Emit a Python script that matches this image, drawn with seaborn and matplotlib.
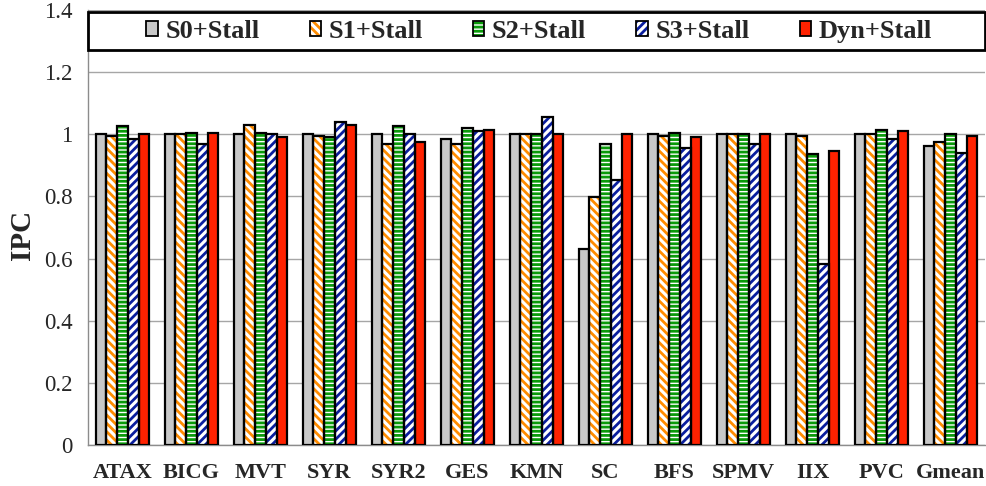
import numpy as np
import pandas as pd
import matplotlib
matplotlib.use("Agg")
import matplotlib.pyplot as plt
from matplotlib.patches import Patch, Rectangle
from matplotlib.font_manager import FontProperties
import seaborn as sns

# ---- data -------------------------------------------------------------
benchmarks = ["ATAX", "BICG", "MVT", "SYR", "SYR2", "GES", "KMN",
              "SC", "BFS", "SPMV", "IIX", "PVC", "Gmean"]
configs = ["S0+Stall", "S1+Stall", "S2+Stall", "S3+Stall", "Dyn+Stall"]

s0_stall = [1.000, 1.000, 1.000, 1.000, 1.000, 0.985, 1.000, 0.632, 1.000, 1.000, 1.000, 1.000, 0.961]
s1_stall = [0.996, 1.000, 1.030, 0.995, 0.970, 0.970, 1.000, 0.797, 0.994, 1.000, 0.996, 1.000, 0.975]
s2_stall = [1.026, 1.004, 1.004, 0.990, 1.026, 1.020, 1.000, 0.970, 1.004, 1.000, 0.936, 1.015, 1.000]
s3_stall = [0.985, 0.970, 1.000, 1.040, 1.000, 1.010, 1.056, 0.853, 0.956, 0.970, 0.582, 0.985, 0.940]
dyn_stall = [1.000, 1.004, 0.990, 1.030, 0.975, 1.015, 1.000, 1.000, 0.990, 1.000, 0.946, 1.010, 0.996]

ytick_values = [0.0, 0.2, 0.4, 0.6, 0.8, 1.0, 1.2, 1.4]
ytick_labels = ["0", "0.2", "0.4", "0.6", "0.8", "1", "1.2", "1.4"]

# ---- styling ----------------------------------------------------------
fills = ["#C8C8C8", "white", "white", "white", "#FF2200"]
hatch_colors = ["#C8C8C8", "#FF8C00", "#0A9A0A", "#0A1E9E", "#FF2200"]
hatches = ["", "\\\\\\\\", "----", "////", ""]

sns.set_style("white")
plt.rcParams["font.family"] = ["Liberation Serif", "DejaVu Serif"]
plt.rcParams["hatch.linewidth"] = 2.0

series = dict(zip(configs, [s0_stall, s1_stall, s2_stall, s3_stall, dyn_stall]))
df = (pd.DataFrame(series, index=benchmarks)
        .rename_axis("benchmark").reset_index()
        .melt(id_vars="benchmark", var_name="config", value_name="ipc"))

fig = plt.figure(figsize=(9.87, 4.86), dpi=100)
ax = fig.add_axes([0.0892, 0.0844, 0.9088, 0.8950])

common = dict(data=df, x="benchmark", y="ipc", hue="config",
              order=benchmarks, hue_order=configs, width=0.78, gap=0,
              saturation=1, errorbar=None, legend=False, ax=ax)

# pass 1: fills and coloured hatching
sns.barplot(palette=dict(zip(configs, fills)), linewidth=0, zorder=2, **common)
for cont, hc, h in zip(ax.containers, hatch_colors, hatches):
    for p in cont.patches:
        p.set_hatch(h)
        p.set_edgecolor(hc)
        p.set_linewidth(0)

# pass 2: black outlines on top
n_fill = len(ax.containers)
sns.barplot(palette=dict(zip(configs, fills)), linewidth=1.6, zorder=3, **common)
for cont in ax.containers[n_fill:]:
    for p in cont.patches:
        p.set_facecolor("none")
        p.set_edgecolor("black")
        p.set_linewidth(1.6)

# ---- axes -------------------------------------------------------------
ax.set_ylim(0, 1.4)
ax.set_xlim(-0.5, len(benchmarks) - 0.5)
ax.set_yticks(ytick_values)
ax.set_yticklabels(ytick_labels, fontsize=16.5)
ax.set_xticks(range(len(benchmarks)))
ax.set_xticklabels(benchmarks, fontsize=16, fontweight="bold")
ax.set_xticks(np.arange(-0.5, len(benchmarks)), minor=True)
ax.tick_params(axis="x", which="major", length=0, pad=13)
ax.tick_params(axis="x", which="minor", length=8, width=1, color="#8C8C8C")
ax.tick_params(axis="y", which="major", length=5, width=1, color="#8C8C8C", pad=6)
ax.set_xlabel("")
ax.set_ylabel("IPC", fontsize=21, fontweight="bold")
ax.yaxis.set_label_coords(-0.058, 0.483)

ax.yaxis.grid(True, color="#A6A6A6", linewidth=1)
ax.set_axisbelow(True)
for side in ("top", "right"):
    ax.spines[side].set_visible(False)
for side in ("left", "bottom"):
    ax.spines[side].set_color("#8C8C8C")
    ax.spines[side].set_linewidth(1)

# ---- legend -----------------------------------------------------------
frame = Rectangle((0.0, 0.908), 1.0, 0.087, transform=ax.transAxes,
                  facecolor="white", edgecolor="black", linewidth=2,
                  zorder=5, clip_on=False)
ax.add_patch(frame)

handles = []
for fc, hc, h in zip(fills, hatch_colors, hatches):
    handles.append((Patch(facecolor=fc, edgecolor=hc, hatch=h, linewidth=0),
                    Patch(facecolor="none", edgecolor="black", linewidth=1.3)))
leg = ax.legend(handles, configs, loc="center", bbox_to_anchor=(0.503, 0.951),
                ncol=5, frameon=False, columnspacing=1.9,
                handlelength=0.42, handleheight=0.5, handletextpad=0.3,
                prop=FontProperties(family="Liberation Serif", weight="bold", size=19))
leg.set_zorder(6)

fig.savefig("out.png", dpi=100)
